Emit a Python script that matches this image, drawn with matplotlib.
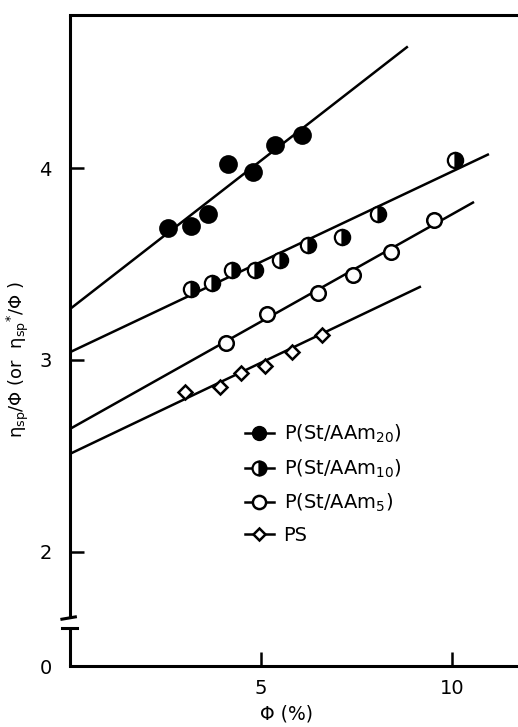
import numpy as np
import matplotlib
matplotlib.use('Agg')
import matplotlib.pyplot as plt
from matplotlib.lines import Line2D
import matplotlib.transforms as mtransforms

plt.rcParams['mathtext.fontset'] = 'dejavusans'

# data: phi (%) vs eta_sp/phi
phi_aam20 = [2.56, 3.17, 3.62, 4.13, 4.80, 5.37, 6.07]
eta_aam20 = [3.69, 3.70, 3.76, 4.02, 3.98, 4.12, 4.17]

phi_aam10 = [3.16, 3.71, 4.25, 4.84, 5.50, 6.24, 7.11, 8.07, 10.08]
eta_aam10 = [3.37, 3.40, 3.47, 3.47, 3.52, 3.60, 3.64, 3.76, 4.04]

phi_aam5 = [4.08, 5.15, 6.50, 7.40, 8.40, 9.53]
eta_aam5 = [3.09, 3.24, 3.35, 3.44, 3.56, 3.73]

phi_ps = [3.01, 3.93, 4.49, 5.10, 5.80, 6.59]
eta_ps = [2.83, 2.86, 2.93, 2.97, 3.04, 3.13]

# fitted straight lines: value at phi=0, and where each line stops
fit_start = [3.265, 3.04, 2.64, 2.51]
fit_end_phi = [8.82, 10.94, 10.55, 9.16]
fit_end_eta = [4.63, 4.07, 3.82, 3.38]

labels = ['P(St/AAm$_{20}$)', 'P(St/AAm$_{10}$)', 'P(St/AAm$_{5}$)', 'PS']
y_ticks = [2, 3, 4]

y_bottom = 1.404  # bottom of the axis, labelled 0 (broken axis)
y_top = 4.798

fig = plt.figure(figsize=(5.18, 7.27), dpi=100)
ax = fig.add_axes([0.1351, 0.0839, 0.8649, 0.8955])

lw = 1.8
for y0, x1, y1 in zip(fit_start, fit_end_phi, fit_end_eta):
    ax.plot([0, x1], [y0, y1], color='black', lw=lw, zorder=2)

ax.plot(phi_aam20, eta_aam20, 'o', ms=12, mfc='black', mec='black', mew=1.5, ls='none', zorder=3)
ax.plot(phi_aam10, eta_aam10, 'o', ms=11, fillstyle='right', mfc='black', mfcalt='white',
        mec='black', mew=1.6, ls='none', zorder=3)
ax.plot(phi_aam5, eta_aam5, 'o', ms=10.5, mfc='white', mec='black', mew=1.8, ls='none', zorder=3)
ax.plot(phi_ps, eta_ps, 'D', ms=7.5, mfc='white', mec='black', mew=1.8, ls='none', zorder=3)

ax.set_xlim(0, 11.73)
ax.set_ylim(y_bottom, y_top)

ax.set_xticks([5, 10])
ax.set_xticklabels(['5', '10'])
ax.set_yticks([y_bottom] + y_ticks)
ax.set_yticklabels(['0'] + [str(t) for t in y_ticks])
ax.tick_params(axis='both', direction='in', length=10, width=1.8, labelsize=14)
ax.tick_params(axis='x', pad=9)
ax.tick_params(axis='y', pad=13)

for side in ['top', 'bottom']:
    ax.spines[side].set_linewidth(2.2)
ax.spines['right'].set_visible(False)
ax.spines['left'].set_visible(False)

# left spine drawn by hand with a break near the bottom
trans = mtransforms.blended_transform_factory(ax.transAxes, ax.transData)
ax.plot([0, 0], [y_bottom, 1.602], color='black', lw=2.2, transform=trans, clip_on=False, solid_capstyle='butt')
ax.plot([0, 0], [1.654, y_top], color='black', lw=2.2, transform=trans, clip_on=False, solid_capstyle='butt')
ax.plot([-0.018, 0.016], [1.602, 1.602], color='black', lw=2.2, transform=trans, clip_on=False)
ax.plot([-0.018, 0.012], [1.648, 1.660], color='black', lw=2.2, transform=trans, clip_on=False)

ax.set_xlabel('Φ (%)', fontsize=13.5)
ax.xaxis.set_label_coords(0.484, -0.059)
ax.set_ylabel('η$_{\\mathrm{sp}}$/Φ (or  η$_{\\mathrm{sp}}$$^{*}$/Φ )', fontsize=13)
ax.yaxis.set_label_coords(-0.088, 0.47)

handles = [
    Line2D([], [], color='black', lw=lw, marker='o', ms=10, mfc='black', mec='black'),
    Line2D([], [], color='black', lw=lw, marker='o', ms=10, fillstyle='right', mfc='black',
           mfcalt='white', mec='black', mew=1.6),
    Line2D([], [], color='black', lw=lw, marker='o', ms=9.5, mfc='white', mec='black', mew=1.8),
    Line2D([], [], color='black', lw=lw, marker='D', ms=6.5, mfc='white', mec='black', mew=1.8),
]
ax.legend(handles, labels, loc='upper left', bbox_to_anchor=(0.39, 0.373), frameon=False,
          fontsize=14, handlelength=1.5, handletextpad=0.5, labelspacing=0.62,
          borderpad=0, borderaxespad=0)

fig.savefig('out.png', dpi=100)
